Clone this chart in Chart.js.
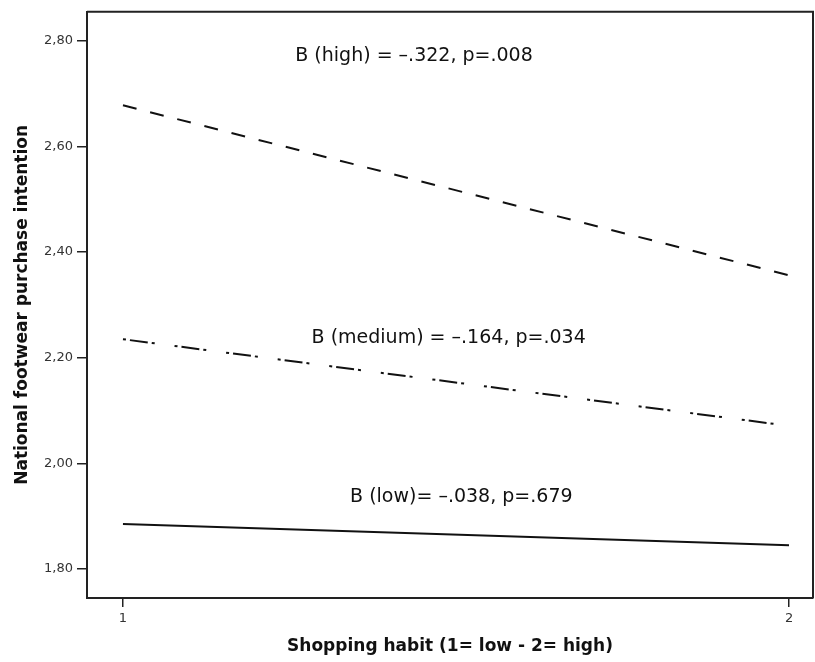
<!DOCTYPE html>
<html>
<head>
<meta charset="utf-8">
<script src="https://cdn.jsdelivr.net/npm/chart.js@4.4.1/dist/chart.umd.min.js"></script>
<style>
  html, body { margin: 0; padding: 0; background: #fff; }
  #wrap { width: 815px; height: 662px; }
</style>
</head>
<body>
<div id="wrap"><canvas id="grafik" width="815" height="662"></canvas></div>
<script>
// shopping habit levels (x)
const habit = [1, 2];
// predicted purchase intention per moderator level
const highVals = [2.678, 2.356];
const mediumVals = [2.235, 2.071];
const lowVals = [1.885, 1.845];

const yTicks = [1.80, 2.00, 2.20, 2.40, 2.60, 2.80];
const xTicks = [1, 2];

// slope labels and where they sit (data units)
const noteTexts = ['B (high) = \u2013.322, p=.008', 'B (medium) = \u2013.164, p=.034', 'B (low)= \u2013.038, p=.679'];
const noteX = [1.437, 1.489, 1.508];
const noteY = [2.772, 2.237, 1.936];

function pts(vals) {
    return habit.map(function (h, i) { return { x: h, y: vals[i] }; });
}

const framePlugin = {
    id: 'frame',
    afterDatasetsDraw(chart) {
        const c = chart.ctx, a = chart.chartArea;
        c.save();
        c.strokeStyle = '#222';
        c.lineWidth = 2;
        c.beginPath();
        c.moveTo(a.left, a.top);
        c.lineTo(a.right, a.top);
        c.lineTo(a.right, a.bottom);
        c.stroke();
        // slope notes
        c.fillStyle = '#111';
        c.font = '19px "DejaVu Sans"';
        c.textAlign = 'center';
        c.textBaseline = 'middle';
        for (let i = 0; i < noteTexts.length; i++) {
            c.fillText(noteTexts[i], chart.scales.x.getPixelForValue(noteX[i]), chart.scales.y.getPixelForValue(noteY[i]));
        }
        c.restore();
    }
};

const tickFont = { family: 'DejaVu Sans', size: 13 };
const titleFont = { family: 'DejaVu Sans', size: 17, weight: 'bold' };

new Chart(document.getElementById('grafik'), {
    type: 'scatter',
    data: {
        datasets: [
            { label: 'high', data: pts(highVals), showLine: true, borderColor: '#111', borderWidth: 2, borderDash: [14, 14], pointRadius: 0 },
            { label: 'medium', data: pts(mediumVals), showLine: true, borderColor: '#111', borderWidth: 2, borderDash: [3, 4, 18, 4, 3, 20], pointRadius: 0 },
            { label: 'low', data: pts(lowVals), showLine: true, borderColor: '#111', borderWidth: 2, pointRadius: 0 }
        ]
    },
    options: {
        responsive: false,
        animation: false,
        layout: { padding: { top: 9, right: 2, left: 0, bottom: 0 } },
        plugins: { legend: { display: false }, tooltip: { enabled: false } },
        scales: {
            x: {
                type: 'linear',
                min: 0.946,
                max: 2.036,
                afterBuildTicks: function (s) { s.ticks = xTicks.map(function (v) { return { value: v }; }); },
                afterFit: function (s) { s.height = 64; },
                border: { display: true, color: '#222', width: 2 },
                grid: { drawOnChartArea: false, tickLength: 9, color: '#222', lineWidth: 1.5 },
                ticks: { font: tickFont, color: '#333', padding: 4, callback: function (v) { return String(v); } },
                title: { display: true, text: 'Shopping habit (1= low - 2= high)', font: titleFont, color: '#111', padding: { top: 0, bottom: 5 } }
            },
            y: {
                type: 'linear',
                min: 1.745,
                max: 2.855,
                afterBuildTicks: function (s) { s.ticks = yTicks.map(function (v) { return { value: v }; }); },
                afterFit: function (s) { s.width = 87; },
                border: { display: true, color: '#222', width: 2 },
                grid: { drawOnChartArea: false, tickLength: 10, color: '#222', lineWidth: 1.5 },
                ticks: { font: tickFont, color: '#333', padding: 4, callback: function (v) { return v.toFixed(2).replace('.', ','); } },
                title: { display: true, text: 'National footwear purchase intention', font: titleFont, color: '#111', padding: { top: 12, bottom: 0 } }
            }
        }
    },
    plugins: [framePlugin]
});
</script>
</body>
</html>
